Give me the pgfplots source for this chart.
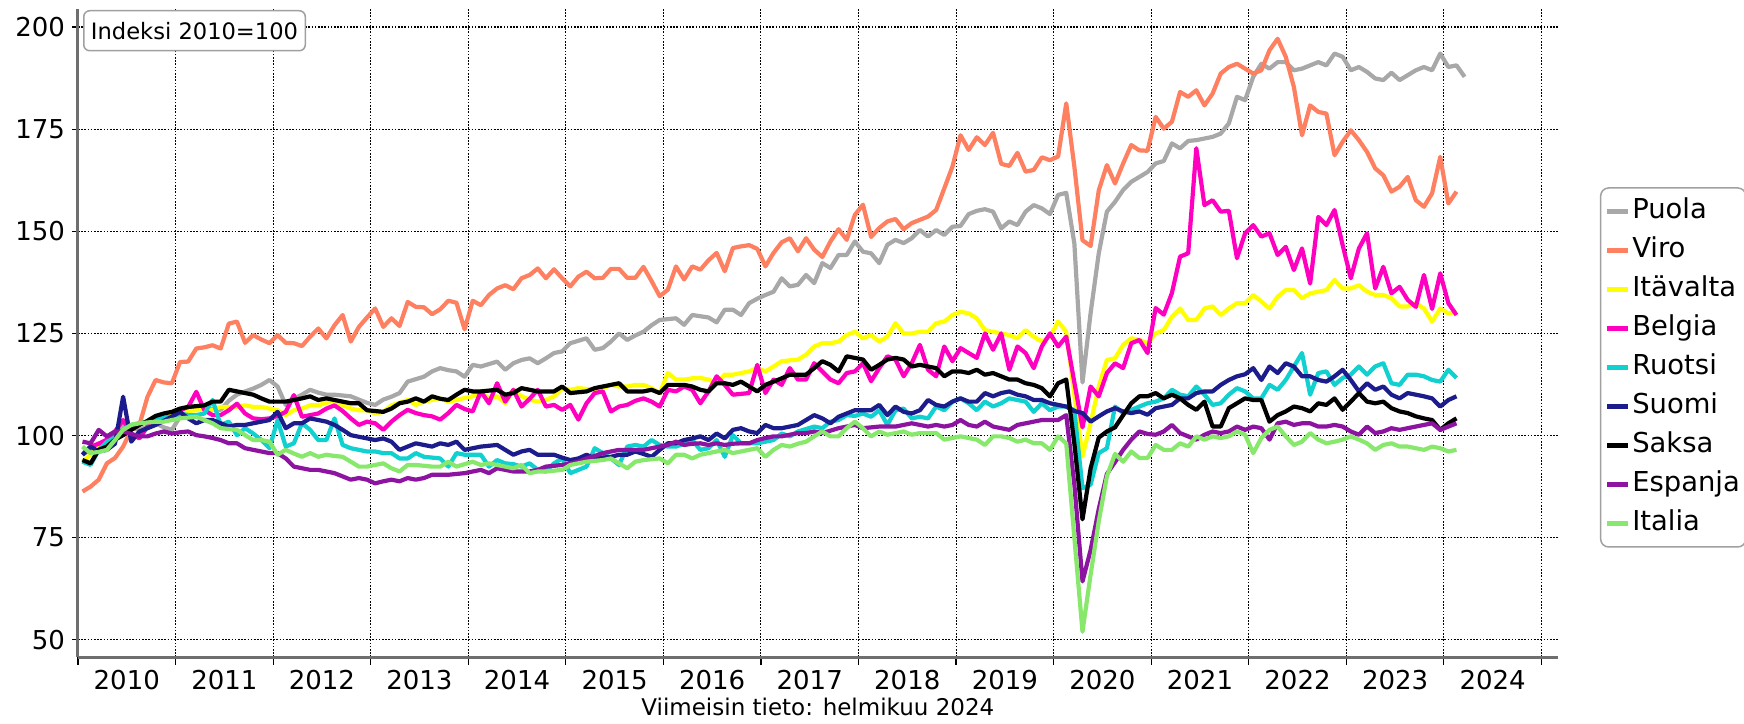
\documentclass[border=0pt]{standalone}
\usepackage{fontspec}
\setmainfont{DejaVu Sans}
\usepackage{pgfplots}
\pgfplotsset{compat=1.18}
\definecolor{cpuola}{HTML}{A8A8A8}
\definecolor{cviro}{HTML}{FF8060}
\definecolor{cita}{HTML}{FFFF00}
\definecolor{cbel}{HTML}{FF00C0}
\definecolor{cruo}{HTML}{10D0D0}
\definecolor{csuo}{HTML}{1C1C8C}
\definecolor{csak}{HTML}{000000}
\definecolor{cesp}{HTML}{8C14A0}
\definecolor{citl}{HTML}{88E86C}
\definecolor{axisgray}{HTML}{6E6E6E}
\definecolor{boxgray}{HTML}{A0A0A0}
\begin{document}
\begin{tikzpicture}
\useasboundingbox (0,0) rectangle (872pt,361.5pt);
\begin{axis}[
  at={(39pt,33pt)}, anchor=south west,
  scale only axis, width=739.85pt, height=324pt,
  xmin=0.45, xmax=182.45, ymin=45.8, ymax=204.4,
  axis x line*=bottom, axis y line*=left,
  axis line style={draw=axisgray, line width=1.5pt, -},
  ytick={50,75,100,125,150,175,200},
  xtick={6.45,18.45,30.45,42.45,54.45,66.45,78.45,90.45,102.45,114.45,126.45,138.45,150.45,162.45,174.45},
  xticklabels={2010,2011,2012,2013,2014,2015,2016,2017,2018,2019,2020,2021,2022,2023,2024},
  minor xtick={0.45,12.45,24.45,36.45,48.45,60.45,72.45,84.45,96.45,108.45,120.45,132.45,144.45,156.45,168.45,180.45},
  major x tick style={draw=none},
  ymajorgrids, xminorgrids,
  grid style={black, line width=0.55pt, dash pattern=on 0.8pt off 0.8pt},
  minor grid style={black, line width=0.55pt, dash pattern=on 0.8pt off 0.8pt},
  tick style={black, line width=0.6pt},
  major tick length=3pt, minor tick length=4pt,
  tick align=outside,
  /pgf/number format/assume math mode=true,
  ticklabel style={font=\fontsize{13}{15}\selectfont},
  xlabel={Viimeisin tieto: helmikuu 2024},
  xlabel style={font=\fontsize{11.5}{13}\selectfont, yshift=2.5pt},
  legend style={at={(1,0.4468)}, anchor=west, xshift=21.1pt,
    draw=boxgray, line width=0.75pt, rounded corners=4pt,
    font=\fontsize{13.7}{16}\selectfont, inner xsep=2pt, inner ysep=4pt,
    row sep=4pt, nodes={inner sep=1pt, text height=10.5pt, text depth=3pt}},
  legend cell align=left,
  legend image code/.code={\draw[line width=2.5pt] (0pt,0pt) -- (10.3pt,0pt);},
  every axis plot/.append style={line width=2.1pt, line join=round, mark=none},
]
\addplot[cpuola] coordinates {
(1,95.3)(2,96.5)(3,98.1)(4,97.3)(5,100)(6,102.6)(7,101.8)(8,101.4)(9,102.2)(10,103)(11,102)(12,101.4)
(13,104.6)(14,106.3)(15,106.5)(16,106.7)(17,106.5)(18,106.3)(19,108.5)(20,110)(21,110.8)(22,111.5)(23,112.4)(24,113.6)
(25,112)(26,107.5)(27,109)(28,110)(29,111.2)(30,110.5)(31,110)(32,110)(33,109.8)(34,109.6)(35,108.8)(36,108)
(37,107.5)(38,108.8)(39,109.5)(40,110.4)(41,113.2)(42,113.8)(43,114.4)(44,115.7)(45,116.5)(46,116)(47,115.7)(48,114.4)
(49,117.3)(50,116.9)(51,117.5)(52,118.1)(53,116.1)(54,117.7)(55,118.5)(56,118.9)(57,117.7)(58,118.9)(59,120.2)(60,120.6)
(61,122.6)(62,123.2)(63,123.8)(64,121)(65,121.4)(66,123)(67,125)(68,123.4)(69,124.5)(70,125.4)(71,127)(72,128.3)
(73,128.5)(74,128.7)(75,127.1)(76,129.5)(77,129.2)(78,128.9)(79,127.7)(80,130.8)(81,130.8)(82,129.5)(83,132.4)(84,133.5)
(85,134.4)(86,135.2)(87,138.5)(88,136.5)(89,136.9)(90,139.3)(91,137.3)(92,142.2)(93,141)(94,144.2)(95,144.2)(96,147.5)
(97,145)(98,144.6)(99,142.2)(100,146.7)(101,147.9)(102,147.1)(103,148.3)(104,150.3)(105,148.7)(106,150.3)(107,149.1)(108,151.1)
(109,151.3)(110,154.2)(111,155)(112,155.4)(113,154.8)(114,150.7)(115,152.4)(116,151.5)(117,154.8)(118,156.4)(119,155.6)(120,154.2)
(121,158.9)(122,159.4)(123,147)(124,113)(125,130)(126,144.6)(127,154.8)(128,157.2)(129,160.1)(130,162.1)(131,163.3)(132,164.5)
(133,166.6)(134,167.2)(135,171.5)(136,170.3)(137,172.1)(138,172.3)(139,172.7)(140,173.1)(141,173.9)(142,176.4)(143,182.9)(144,182.1)
(145,187.8)(146,191)(147,189.8)(148,191.4)(149,191.4)(150,189.4)(151,189.8)(152,190.6)(153,191.4)(154,190.6)(155,193.5)(156,192.7)
(157,189.4)(158,190.2)(159,189)(160,187.4)(161,187)(162,188.8)(163,187)(164,188.2)(165,189.4)(166,190.2)(167,189.4)(168,193.5)
(169,190.2)(170,190.6)(171,187.8)};
\addplot[cviro] coordinates {
(1,86.3)(2,87.5)(3,89.2)(4,93.2)(5,94.5)(6,97.3)(7,101.4)(8,102.6)(9,109.5)(10,113.6)(11,113)(12,112.8)
(13,118)(14,118.1)(15,121.3)(16,121.6)(17,122.1)(18,121.3)(19,127.4)(20,127.9)(21,122.7)(22,124.6)(23,123.5)(24,122.6)
(25,124.6)(26,122.7)(27,122.6)(28,121.9)(29,124.2)(30,126.2)(31,123.8)(32,127)(33,129.5)(34,123)(35,126.6)(36,128.9)
(37,131.1)(38,126.6)(39,128.7)(40,126.8)(41,132.7)(42,131.5)(43,131.4)(44,129.7)(45,130.9)(46,133)(47,132.5)(48,126)
(49,133)(50,131.9)(51,134.4)(52,136)(53,136.8)(54,135.8)(55,138.5)(56,139.3)(57,140.9)(58,138.5)(59,140.7)(60,138.5)
(61,136.5)(62,138.9)(63,140.1)(64,138.5)(65,138.6)(66,140.8)(67,140.8)(68,138.6)(69,138.6)(70,141.3)(71,137.8)(72,134.1)
(73,135.7)(74,141.4)(75,138.2)(76,141.4)(77,140.6)(78,142.9)(79,144.7)(80,140.2)(81,145.9)(82,146.3)(83,146.6)(84,145.7)
(85,141.4)(86,144.7)(87,147.3)(88,148.3)(89,145.1)(90,148.3)(91,145.5)(92,143.7)(93,147.5)(94,150.5)(95,147.9)(96,154)
(97,156.5)(98,148.6)(99,150.8)(100,152.4)(101,153)(102,150.5)(103,152)(104,152.8)(105,153.6)(106,155.2)(107,160.5)(108,165.8)
(109,173.5)(110,169.9)(111,173)(112,171.1)(113,174.1)(114,166.5)(115,166)(116,169.2)(117,164.6)(118,165)(119,168.1)(120,167.4)
(121,168.3)(122,181.3)(123,165.8)(124,147.8)(125,146.4)(126,160)(127,166.2)(128,161.7)(129,166.6)(130,171.1)(131,169.8)(132,169.7)
(133,178)(134,175.1)(135,176.8)(136,184.1)(137,182.9)(138,184.5)(139,180.8)(140,183.7)(141,188.6)(142,190.2)(143,191)(144,189.8)
(145,188.6)(146,189.4)(147,194.3)(148,197.1)(149,192.7)(150,185.3)(151,173.5)(152,180.8)(153,179.2)(154,178.8)(155,168.6)(156,171.9)
(157,174.7)(158,172.3)(159,169.4)(160,165.4)(161,163.7)(162,159.7)(163,160.9)(164,163.3)(165,157.6)(166,156)(167,159.3)(168,168.2)
(169,156.8)(170,159.7)};
\addplot[cita] coordinates {
(1,93.6)(2,95.3)(3,97.3)(4,98.5)(5,99.8)(6,101.4)(7,102.6)(8,103)(9,103.4)(10,103.8)(11,104.2)(12,105)
(13,105.8)(14,106)(15,106.2)(16,106.6)(17,106.2)(18,107)(19,107)(20,107)(21,107.4)(22,107)(23,107)(24,106.6)
(25,106.2)(26,105)(27,106.2)(28,106.6)(29,107.4)(30,107.4)(31,108)(32,108.7)(33,107.4)(34,106.6)(35,106.2)(36,106.2)
(37,105.4)(38,105.8)(39,107.4)(40,108)(41,108.7)(42,107.5)(43,108.3)(44,108.7)(45,109.1)(46,108.3)(47,108.7)(48,109.2)
(49,109.6)(50,110.4)(51,109.1)(52,109.6)(53,107.9)(54,111.2)(55,109.6)(56,108.8)(57,108.3)(58,108.7)(59,109.6)(60,111.6)
(61,111.2)(62,111.6)(63,111.4)(64,111.2)(65,111.6)(66,112.4)(67,112)(68,112)(69,112.4)(70,112.4)(71,111.6)(72,110.4)
(73,115.3)(74,113.7)(75,113.7)(76,114)(77,114.1)(78,113.7)(79,112.8)(80,114.9)(81,114.9)(82,115.3)(83,115.7)(84,116.5)
(85,115.7)(86,116.9)(87,118.2)(88,118.4)(89,118.6)(90,119.8)(91,121.8)(92,122.6)(93,122.6)(94,123)(95,124.6)(96,125.4)
(97,123.8)(98,124.6)(99,123)(100,124.2)(101,127.5)(102,125)(103,125)(104,125.4)(105,125.4)(106,127.5)(107,127.9)(108,129.5)
(109,130.3)(110,129.9)(111,128.7)(112,125.8)(113,125.4)(114,125)(115,124.6)(116,123.8)(117,125.8)(118,124.2)(119,123)(120,124.2)
(121,127.9)(122,125.4)(123,110)(124,94.9)(125,103)(126,112)(127,118.5)(128,118.9)(129,122.2)(130,123.8)(131,123.4)(132,122.6)
(133,125)(134,125.8)(135,129.1)(136,131.1)(137,128.3)(138,128.3)(139,131.1)(140,131.6)(141,129.5)(142,131.1)(143,132.4)(144,132.4)
(145,134.4)(146,132.8)(147,131.1)(148,134)(149,135.6)(150,135.6)(151,133.6)(152,134.8)(153,135.2)(154,135.6)(155,138.1)(156,136)
(157,136)(158,136.8)(159,135.2)(160,134.4)(161,134.4)(162,133.6)(163,131.6)(164,131.6)(165,132.4)(166,131.1)(167,127.9)(168,131.1)
(169,129.9)(170,130.3)};
\addplot[cbel] coordinates {
(1,95.3)(2,97.3)(3,98)(4,99)(5,101)(6,103.8)(7,100.5)(8,99.3)(9,102.2)(10,103.5)(11,104.2)(12,104.6)
(13,106.2)(14,107)(15,110.7)(16,106.2)(17,105)(18,105)(19,106.2)(20,107.8)(21,105.4)(22,104.2)(23,104)(24,104.2)
(25,104.8)(26,105.8)(27,109.9)(28,104.6)(29,105)(30,105.4)(31,106.6)(32,107.4)(33,106)(34,104.2)(35,102.6)(36,103.4)
(37,103)(38,101.4)(39,103.4)(40,105)(41,106.3)(42,105.5)(43,105)(44,104.7)(45,103.9)(46,105.5)(47,107.5)(48,106.5)
(49,105.9)(50,110.8)(51,107.9)(52,112.8)(53,108.3)(54,111.2)(55,107.1)(56,109)(57,111.2)(58,107.1)(59,107.5)(60,106.3)
(61,107.5)(62,103.9)(63,107.9)(64,110.4)(65,110.8)(66,105.9)(67,107.1)(68,107.5)(69,108.5)(70,109.1)(71,108.3)(72,107.1)
(73,111.2)(74,110.8)(75,112)(76,111.2)(77,107.9)(78,110.8)(79,114.5)(80,112.4)(81,110)(82,110.2)(83,110.4)(84,117.3)
(85,110.4)(86,113.7)(87,112.4)(88,116.5)(89,113.7)(90,113.7)(91,117.7)(92,115.7)(93,113.7)(94,112.8)(95,115.3)(96,115.7)
(97,117.7)(98,113.3)(99,116.5)(100,119.4)(101,118.6)(102,114.5)(103,117.7)(104,122.2)(105,116.1)(106,114.5)(107,121.8)(108,118.2)
(109,121.4)(110,120.2)(111,119)(112,125)(113,121)(114,125)(115,116.1)(116,121.8)(117,120.2)(118,116.5)(119,121.8)(120,125)
(121,121.8)(122,124.2)(123,113)(124,102)(125,112)(126,109.6)(127,115.3)(128,117.7)(129,116.5)(130,122.6)(131,123.4)(132,120.2)
(133,131.2)(134,129.6)(135,134.9)(136,143.8)(137,144.6)(138,170.3)(139,156.4)(140,157.6)(141,154.8)(142,155)(143,143.4)(144,149.5)
(145,151.5)(146,148.7)(147,149.5)(148,144.2)(149,146.2)(150,140.5)(151,145.8)(152,137.2)(153,153.5)(154,151.5)(155,155.2)(156,146.6)
(157,138.5)(158,145.8)(159,149.5)(160,136)(161,141.3)(162,134.8)(163,136.4)(164,133.2)(165,131.5)(166,139.3)(167,131)(168,139.7)
(169,132.4)(170,129.5)};
\addplot[cruo] coordinates {
(1,93.6)(2,92.8)(3,96.5)(4,98.5)(5,99.5)(6,101.5)(7,102.6)(8,103)(9,103.4)(10,104.2)(11,104.4)(12,104.6)
(13,105.4)(14,105)(15,105)(16,105.4)(17,108.7)(18,102.6)(19,103.4)(20,100.1)(21,101.8)(22,100.5)(23,98.9)(24,96.9)
(25,103.8)(26,97.3)(27,98.1)(28,103)(29,101.4)(30,98.9)(31,98.9)(32,104.2)(33,97.7)(34,96.9)(35,96.5)(36,96.1)
(37,96.1)(38,95.7)(39,95.7)(40,94.4)(41,94.4)(42,95.7)(43,94.8)(44,94.6)(45,94.4)(46,92.4)(47,95.7)(48,95.3)
(49,95.3)(50,95.3)(51,92.4)(52,94)(53,93.2)(54,93)(55,92.4)(56,93.2)(57,91.6)(58,91.2)(59,93.2)(60,94.4)
(61,90.8)(62,91.6)(63,92.4)(64,96.9)(65,95.7)(66,94.4)(67,92.8)(68,97.3)(69,97.7)(70,97.3)(71,98.9)(72,97.7)
(73,97.3)(74,97.3)(75,98)(76,98.9)(77,96.5)(78,96.9)(79,98.9)(80,94.8)(81,100.1)(82,98.1)(83,98.1)(84,98.1)
(85,98.5)(86,98.9)(87,100.5)(88,99.8)(89,101)(90,101.6)(91,102.2)(92,101.8)(93,103.4)(94,103.8)(95,105)(96,104.8)
(97,105.4)(98,104.6)(99,106.2)(100,102.6)(101,106.2)(102,106.6)(103,104.2)(104,104.6)(105,104.2)(106,107.1)(107,106.2)(108,108.3)
(109,109.1)(110,107.9)(111,106.2)(112,108.3)(113,107.1)(114,107.9)(115,109.1)(116,108.7)(117,108.3)(118,105.8)(119,107.9)(120,106.2)
(121,107.1)(122,107.1)(123,106.2)(124,87.1)(125,88)(126,95.7)(127,96.9)(128,107.1)(129,105.5)(130,106.3)(131,107.1)(132,107.9)
(133,108.3)(134,109.1)(135,111.2)(136,110)(137,109.6)(138,112)(139,110)(140,107.5)(141,107.9)(142,110)(143,111.6)(144,110.8)
(145,109.1)(146,109.1)(147,112.4)(148,111.2)(149,113.6)(150,116.9)(151,120.2)(152,110)(153,115.3)(154,115.7)(155,112.4)(156,114.1)
(157,114.9)(158,116.9)(159,114.9)(160,116.9)(161,117.7)(162,112.8)(163,112.4)(164,114.9)(165,114.9)(166,114.5)(167,113.6)(168,113.2)
(169,116.1)(170,114.1)};
\addplot[csuo] coordinates {
(1,95.3)(2,97.3)(3,96.1)(4,96.5)(5,98)(6,109.5)(7,98.5)(8,101)(9,101.8)(10,102.6)(11,103.6)(12,104.6)
(13,105.8)(14,104.2)(15,103)(16,103.8)(17,103.8)(18,103)(19,102.2)(20,102.6)(21,102.6)(22,103)(23,103.4)(24,103.8)
(25,105.8)(26,101.8)(27,103)(28,103)(29,104.2)(30,103.8)(31,103.4)(32,102.6)(33,101.4)(34,100.1)(35,99.7)(36,99.3)
(37,98.9)(38,99.3)(39,98.5)(40,96.5)(41,97.3)(42,98.1)(43,97.7)(44,97.3)(45,98.1)(46,97.7)(47,98.5)(48,96.5)
(49,96.9)(50,97.3)(51,97.5)(52,97.7)(53,96.5)(54,95.3)(55,96.1)(56,96.5)(57,95.3)(58,95.3)(59,95.3)(60,94.6)
(61,94)(62,94.4)(63,95.3)(64,94.4)(65,94.6)(66,94.8)(67,95.3)(68,95.3)(69,96.1)(70,95.5)(71,94.8)(72,96.5)
(73,98.1)(74,98.1)(75,98.9)(76,99.3)(77,99.8)(78,98.9)(79,100.5)(80,99.3)(81,101.4)(82,101.8)(83,101)(84,100.6)
(85,102.6)(86,101.8)(87,101.8)(88,102.2)(89,102.6)(90,103.8)(91,105)(92,104.2)(93,103)(94,104.6)(95,105.4)(96,106.2)
(97,106.2)(98,106.2)(99,107.5)(100,105)(101,107.1)(102,105.8)(103,105.4)(104,106.2)(105,108.7)(106,107.5)(107,107.1)(108,108.3)
(109,109.1)(110,108.3)(111,108.3)(112,110.4)(113,109.6)(114,110.4)(115,110.8)(116,110)(117,109.6)(118,108.7)(119,108.7)(120,107.9)
(121,107.5)(122,107.1)(123,106)(124,105.5)(125,103.4)(126,104.7)(127,105.9)(128,106.7)(129,105.9)(130,105.5)(131,105.9)(132,105.1)
(133,106.7)(134,107.1)(135,107.5)(136,109.1)(137,109.1)(138,110.4)(139,110.8)(140,110.8)(141,112.4)(142,113.6)(143,114.5)(144,115)
(145,116.5)(146,113.6)(147,116.9)(148,115.3)(149,117.7)(150,116.9)(151,114.5)(152,114.5)(153,113.6)(154,113.2)(155,114.5)(156,116.1)
(157,113.6)(158,110.8)(159,112.8)(160,111.2)(161,112)(162,110)(163,109.1)(164,110.4)(165,110)(166,109.6)(167,109.1)(168,107.1)
(169,108.7)(170,109.6)};
\addplot[csak] coordinates {
(1,94)(2,93.2)(3,96.5)(4,97.3)(5,99)(6,100.1)(7,101.4)(8,102.6)(9,103.6)(10,104.8)(11,105.4)(12,105.8)
(13,106.6)(14,107)(15,107.2)(16,107.4)(17,108.3)(18,108.3)(19,111.2)(20,110.8)(21,110.4)(22,110)(23,109.1)(24,108.3)
(25,108.3)(26,108.3)(27,108.7)(28,109.1)(29,109.6)(30,108.7)(31,109.1)(32,108.7)(33,108.3)(34,107.9)(35,107.9)(36,106.2)
(37,106)(38,105.8)(39,106.6)(40,107.9)(41,108.3)(42,109.1)(43,108.3)(44,109.6)(45,109)(46,108.7)(47,110)(48,111.2)
(49,110.8)(50,110.8)(51,111)(52,111.2)(53,110)(54,110.4)(55,111.6)(56,111.2)(57,110.8)(58,110.8)(59,110.8)(60,112)
(61,110.4)(62,110.6)(63,110.8)(64,111.6)(65,112)(66,112.4)(67,112.8)(68,110.8)(69,110.8)(70,110.8)(71,111.2)(72,110.4)
(73,112.4)(74,112.4)(75,112.4)(76,112)(77,111.2)(78,110.8)(79,112.8)(80,112.8)(81,112.4)(82,113.2)(83,112)(84,110.8)
(85,112.4)(86,113.2)(87,114)(88,114.9)(89,114.9)(90,114.9)(91,116.5)(92,118.2)(93,117.3)(94,115.7)(95,119.4)(96,119)
(97,118.6)(98,116.1)(99,117.3)(100,118.6)(101,119)(102,118.6)(103,116.9)(104,117.3)(105,116.9)(106,116.5)(107,114.5)(108,115.7)
(109,115.7)(110,115.3)(111,116.1)(112,114.9)(113,115.3)(114,114.5)(115,113.7)(116,113.7)(117,112.8)(118,112.4)(119,111.6)(120,109.6)
(121,112.8)(122,113.7)(123,98)(124,79.5)(125,92)(126,99.5)(127,101)(128,102)(129,105)(130,107.9)(131,109.6)(132,109.6)
(133,110.4)(134,109.1)(135,110)(136,109.1)(137,107.5)(138,106.3)(139,108.3)(140,102.2)(141,102.2)(142,106.7)(143,107.9)(144,109.1)
(145,108.7)(146,108.7)(147,103.4)(148,105)(149,105.9)(150,107.1)(151,106.7)(152,105.9)(153,107.9)(154,107.5)(155,109.1)(156,106.3)
(157,108.3)(158,110.4)(159,108.3)(160,107.9)(161,108.3)(162,106.7)(163,105.9)(164,105.5)(165,104.7)(166,104.2)(167,103.8)(168,101.4)
(169,103)(170,104.2)};
\addplot[cesp] coordinates {
(1,98.5)(2,98.1)(3,101.4)(4,99.8)(5,101)(6,101)(7,100.4)(8,99.8)(9,99.8)(10,100.5)(11,101)(12,100.5)
(13,100.8)(14,101)(15,100.1)(16,99.8)(17,99.4)(18,98.9)(19,98.1)(20,98.1)(21,96.9)(22,96.5)(23,96.1)(24,95.7)
(25,95.7)(26,94.4)(27,92.4)(28,92)(29,91.6)(30,91.6)(31,91.2)(32,90.8)(33,90)(34,89.2)(35,89.6)(36,89.2)
(37,88.3)(38,88.8)(39,89.2)(40,88.8)(41,89.6)(42,89.2)(43,89.6)(44,90.4)(45,90.4)(46,90.4)(47,90.6)(48,90.8)
(49,91.2)(50,91.6)(51,90.8)(52,92)(53,91.6)(54,91.2)(55,91.2)(56,91.2)(57,91.6)(58,92.4)(59,92.6)(60,92.8)
(61,93.2)(62,93.6)(63,94.4)(64,95)(65,95.7)(66,96.1)(67,96.5)(68,96.5)(69,96.5)(70,96.5)(71,96.9)(72,97.3)
(73,97.7)(74,98.5)(75,97.7)(76,98)(77,98.1)(78,97.7)(79,98.1)(80,97.7)(81,98)(82,98.1)(83,98.1)(84,98.9)
(85,99.4)(86,99.8)(87,99.8)(88,100.2)(89,100.6)(90,100.6)(91,101)(92,100.6)(93,101.2)(94,101.8)(95,102.2)(96,102.6)
(97,101.8)(98,102)(99,102.2)(100,102.2)(101,102.2)(102,102.6)(103,103)(104,102.6)(105,102.2)(106,102.6)(107,102.2)(108,102.6)
(109,103.8)(110,102.6)(111,102.2)(112,103.4)(113,102.2)(114,101.8)(115,101.4)(116,102.6)(117,103)(118,103.4)(119,103.8)(120,103.8)
(121,103.8)(122,105)(123,88)(124,64.3)(125,72)(126,82)(127,90.6)(128,93.5)(129,96.5)(130,99)(131,101)(132,100.4)
(133,100.2)(134,101)(135,102.6)(136,100.6)(137,99.8)(138,99)(139,100.2)(140,101)(141,100.6)(142,101)(143,102.2)(144,101.4)
(145,102.2)(146,101.8)(147,99)(148,103)(149,103.4)(150,102.6)(151,103)(152,103)(153,102.2)(154,102.2)(155,102.6)(156,102.2)
(157,101)(158,100.2)(159,102.2)(160,100.6)(161,101)(162,101.8)(163,101.4)(164,101.8)(165,102.2)(166,102.6)(167,103)(168,101.4)
(169,102.2)(170,103)};
\addplot[citl] coordinates {
(1,97.3)(2,95.7)(3,96)(4,96.5)(5,98.9)(6,101.4)(7,102.6)(8,103)(9,103.2)(10,103.4)(11,103.4)(12,103.8)
(13,104.2)(14,104.4)(15,104.6)(16,103.8)(17,103)(18,101.8)(19,101.6)(20,101.4)(21,100.1)(22,98.9)(23,98.9)(24,98.5)
(25,95.3)(26,96.5)(27,95.6)(28,94.8)(29,95.7)(30,94.8)(31,95.3)(32,95)(33,94.8)(34,93.6)(35,92.4)(36,92.4)
(37,92.8)(38,93.2)(39,92)(40,91.2)(41,92.8)(42,92.8)(43,92.6)(44,92.4)(45,92.4)(46,93.6)(47,92.4)(48,93)
(49,93.6)(50,92.8)(51,93.2)(52,92.8)(53,92.4)(54,92)(55,92.8)(56,90.8)(57,91.2)(58,91.2)(59,91.4)(60,91.6)
(61,92.8)(62,93.2)(63,93.6)(64,93.8)(65,94)(66,94.4)(67,93.2)(68,92)(69,93.6)(70,94)(71,94.2)(72,94.4)
(73,93.2)(74,95.3)(75,95.3)(76,94.4)(77,95.3)(78,95.7)(79,96.1)(80,96.5)(81,95.7)(82,96.1)(83,96.5)(84,96.9)
(85,94.8)(86,96.5)(87,97.7)(88,97.3)(89,98)(90,98.5)(91,99.8)(92,101)(93,99.8)(94,99.8)(95,101.8)(96,103.4)
(97,101.8)(98,99.8)(99,101)(100,100.2)(101,100.6)(102,101)(103,100.2)(104,100.6)(105,100.6)(106,100.6)(107,99)(108,99.4)
(109,99.8)(110,99.4)(111,99)(112,97.7)(113,99.8)(114,99.8)(115,99.4)(116,98.5)(117,99)(118,98.1)(119,98.1)(120,96.5)
(121,99.8)(122,98.1)(123,75)(124,52)(125,66)(126,79)(127,90)(128,95.5)(129,93.6)(130,96.1)(131,94.5)(132,94.5)
(133,97.7)(134,96.5)(135,96.5)(136,98.1)(137,97.3)(138,99.8)(139,99)(140,99.8)(141,99.4)(142,99.8)(143,101)(144,100.2)
(145,95.7)(146,99.4)(147,101.4)(148,102.2)(149,99.8)(150,97.7)(151,98.5)(152,100.6)(153,99)(154,98.1)(155,98.5)(156,99)
(157,99.8)(158,99)(159,98.1)(160,96.5)(161,97.7)(162,98.1)(163,97.3)(164,97.3)(165,96.9)(166,96.5)(167,97.3)(168,96.9)
(169,96.1)(170,96.5)};
\legend{Puola,Viro,Itävalta,Belgia,Ruotsi,Suomi,Saksa,Espanja,Italia}
\end{axis}
\node[draw=boxgray, line width=0.75pt, rounded corners=3pt, fill=white, anchor=north west,
  inner xsep=3.6pt, minimum height=20pt, font=\fontsize{11.3}{13}\selectfont]
  at (41.5pt,356.5pt) {Indeksi 2010=100};
\end{tikzpicture}
\end{document}
